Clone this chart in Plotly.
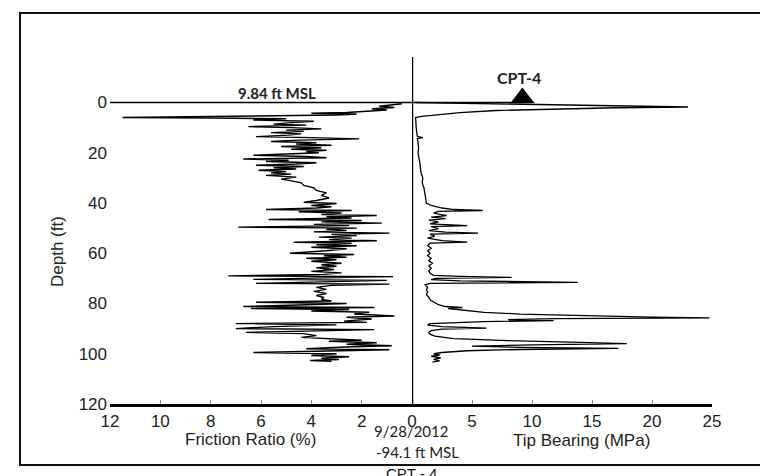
import plotly.graph_objects as go

# ---------------- data ----------------
friction_depth = [0.5, 1.0, 1.5, 2.0, 2.5, 3.0, 3.5, 4.0, 4.3, 4.6, 5.0, 5.5, 5.8, 6.0, 6.2, 6.5, 7.0, 7.5, 8.0, 8.6,
                  9.0, 9.6, 10.0, 10.5, 11.0, 11.5, 12.0, 12.5, 13.0, 13.6, 14.0, 14.5, 15.0, 15.5, 16.0, 16.5, 17.0, 17.5, 18.0, 18.6,
                  19.0, 19.5, 20.0, 20.5, 21.0, 21.5, 22.0, 22.5, 23.0, 23.5, 24.0, 24.5, 25.0, 25.5, 26.0, 26.5, 27.0, 27.5, 28.0, 28.5,
                  29.0, 29.7, 30.5, 31.0, 32.0, 33.0, 34.0, 35.0, 36.0, 37.0, 38.0, 39.0, 39.7, 40.2, 41.0, 41.5, 42.0, 42.6, 43.0, 43.5,
                  44.0, 44.6, 45.0, 45.5, 46.0, 46.6, 47.0, 47.5, 48.0, 48.5, 49.0, 49.6, 50.0, 50.5, 51.0, 51.5, 52.0, 52.5, 53.0, 53.6,
                  54.0, 54.6, 55.0, 55.6, 56.0, 56.6, 57.0, 57.6, 58.2, 59.0, 60.0, 60.5, 61.0, 61.6, 62.0, 62.6, 63.2, 64.0, 64.6, 65.2,
                  65.8, 66.5, 67.2, 67.8, 68.4, 69.0, 69.3, 69.8, 70.4, 70.8, 71.3, 72.0, 72.3, 72.8, 73.6, 74.4, 75.2, 76.0, 76.8, 77.6,
                  78.4, 79.0, 79.5, 80.0, 80.6, 81.2, 81.6, 82.0, 82.4, 83.0, 83.5, 84.2, 85.0, 85.5, 86.2, 87.0, 87.5, 88.0, 88.5, 89.2,
                  90.0, 90.4, 91.0, 91.5, 92.0, 92.8, 93.5, 94.0, 94.6, 95.0, 95.6, 96.2, 96.8, 97.2, 97.6, 98.0, 98.4, 99.0, 99.5, 100.0,
                  100.7, 101.2, 101.8, 102.3, 102.7, 103.0]
friction_ratio = [0.4, 0.8, 1.3, 0.7, 1.6, 1.0, 1.9, 2.6, 4.0, 2.2, 3.0, 6.5, 9.5, 11.5, 8.0, 5.0, 6.3, 3.9, 4.8, 5.5,
                  4.2, 6.5, 4.8, 3.6, 5.0, 4.3, 5.6, 4.4, 4.9, 6.2, 4.0, 2.1, 4.5, 5.6, 3.8, 4.6, 3.2, 5.2, 3.6, 4.8,
                  3.4, 4.2, 3.7, 5.0, 6.3, 4.2, 3.4, 6.7, 4.9, 5.8, 3.8, 4.6, 6.2, 4.3, 5.5, 4.6, 6.1, 5.0, 5.6, 4.8,
                  5.8, 4.6, 5.2, 4.9, 4.4, 4.3, 3.9, 3.8, 3.4, 3.6, 3.3, 3.8, 4.3, 3.0, 4.0, 3.2, 3.8, 5.8, 2.4, 4.5,
                  2.8, 3.6, 1.4, 3.4, 2.4, 5.7, 2.0, 3.6, 1.2, 3.9, 2.5, 6.9, 2.2, 3.4, 2.6, 3.9, 0.9, 3.2, 2.2, 3.7,
                  2.4, 3.3, 1.4, 4.7, 2.4, 3.8, 2.2, 4.0, 2.6, 3.4, 4.85, 2.3, 3.5, 2.6, 4.2, 3.0, 4.0, 2.8, 3.6, 3.0,
                  3.8, 3.1, 4.0, 2.8, 3.5, 7.3, 0.75, 3.5, 6.3, 1.0, 3.3, 6.2, 0.9, 3.2, 3.8, 3.4, 3.9, 3.4, 3.8, 3.5,
                  3.6, 3.2, 6.2, 2.6, 4.5, 6.7, 1.5, 6.4, 2.5, 4.0, 1.7, 2.3, 0.7, 2.6, 1.6, 2.7, 1.8, 7.0, 3.0, 5.5,
                  7.0, 1.5, 4.2, 6.6, 4.3, 3.8, 4.4, 3.4, 2.0, 3.3, 1.4, 2.6, 0.8, 2.4, 3.2, 4.2, 0.9, 3.5, 6.3, 3.0,
                  4.0, 2.5, 3.6, 2.9, 4.05, 3.2]

tip_depth = [0.0, 0.5, 1.0, 1.5, 1.8, 2.1, 2.6, 3.2, 4.0, 4.8, 5.5, 6.0, 8.0, 10.0, 12.0, 13.5, 14.0, 14.4, 16.0, 18.0,
             20.0, 22.0, 24.0, 26.0, 28.0, 30.0, 32.0, 34.0, 36.0, 38.0, 40.0, 41.0, 42.0, 42.6, 43.0, 43.3, 44.0, 45.0, 45.6, 46.2,
             46.8, 47.5, 48.3, 49.0, 49.4, 50.2, 51.0, 51.6, 52.0, 52.4, 53.2, 54.0, 55.0, 55.6, 56.0, 57.0, 58.0, 59.0, 60.0, 61.0,
             62.0, 63.0, 64.0, 65.0, 66.0, 67.0, 68.0, 68.8, 69.2, 69.6, 70.0, 70.5, 71.0, 71.6, 72.0, 72.6, 73.5, 74.5, 75.5, 76.5,
             77.5, 78.5, 79.5, 80.5, 81.2, 81.6, 82.0, 82.8, 83.5, 84.2, 84.8, 85.4, 85.7, 86.0, 86.4, 86.8, 87.2, 87.6, 88.0, 88.6,
             89.2, 89.8, 90.2, 90.8, 91.5, 92.2, 93.0, 94.0, 94.8, 95.5, 96.0, 96.5, 97.0, 97.5, 97.9, 98.3, 98.8, 99.5, 100.0, 100.5,
             101.0, 101.6, 102.2, 102.8, 103.3]
tip_bearing = [0.3, 6.0, 14.0, 20.0, 23.0, 17.0, 11.0, 7.0, 4.0, 2.0, 0.8, 0.3, 0.3, 0.35, 0.4, 0.45, 0.9, 0.45, 0.5, 0.55,
               0.5, 0.6, 0.65, 0.7, 0.75, 0.9, 0.85, 1.0, 1.05, 1.1, 1.2, 1.6, 2.5, 3.5, 5.9, 2.2, 1.8, 2.9, 1.6, 2.8,
               1.4, 2.2, 1.5, 4.6, 1.6, 2.2, 1.4, 2.8, 5.5, 1.5, 1.9, 1.3, 2.5, 4.6, 1.5, 1.3, 1.6, 1.3, 1.5, 1.3,
               1.6, 1.4, 1.7, 1.4, 1.6, 1.4, 1.5, 1.8, 4.0, 8.3, 2.0, 1.6, 4.0, 13.8, 1.5, 1.1, 1.3, 1.2, 1.3, 1.2,
               1.4, 1.5, 1.8, 2.2, 2.8, 4.2, 3.0, 4.5, 6.0, 9.0, 14.0, 20.0, 24.8, 12.0, 8.0, 11.8, 6.0, 3.0, 1.5, 1.3,
               2.5, 6.2, 2.5, 1.6, 1.4, 1.5, 1.9, 3.5, 8.0, 14.0, 17.9, 10.0, 5.0, 9.0, 17.2, 9.0, 4.6, 2.5, 1.8, 2.3,
               1.6, 2.4, 1.8, 2.3, 1.7]

friction_ticks = [12, 10, 8, 6, 4, 2, 0]
tip_ticks = [5, 10, 15, 20, 25]
depth_ticks = [0, 20, 40, 60, 80, 100, 120]
depth_range = [120, -18.1]
cpt_marker_tip = 9.2
ground_depth = 0

# ---------------- figure ----------------
OFF = 8  # page body margin offset
W, H = 760, 468
ML, MR, MT, MB = 102, 56, 49, 72
PW, PH = W - ML - MR, H - MT - MB
split = 302 / PW


def py(p):  # screen pixel y -> paper y
    return (H - MB - (p - OFF)) / PH


def px(p):  # screen pixel x -> paper x
    return (p - OFF - ML) / PW


fig = go.Figure()
fig.add_trace(go.Scatter(x=friction_ratio, y=friction_depth, mode="lines", xaxis="x", yaxis="y",
                         line=dict(color="black", width=1.4), hoverinfo="skip"))
fig.add_trace(go.Scatter(x=tip_bearing, y=tip_depth, mode="lines", xaxis="x2", yaxis="y",
                         line=dict(color="black", width=1.3), hoverinfo="skip"))
fig.add_trace(go.Scatter(x=[cpt_marker_tip], y=[ground_depth - 2.0], mode="markers", xaxis="x2", yaxis="y",
                         marker=dict(symbol="triangle-up", size=20, color="black"), hoverinfo="skip"))

tickfont = dict(family="Liberation Sans, Arial", size=17, color="#222")
fig.update_layout(
    width=W, height=H, margin=dict(l=ML, r=MR, t=MT, b=MB),
    paper_bgcolor="white", plot_bgcolor="white", showlegend=False,
    xaxis=dict(domain=[0, split], range=[12, 0], tickvals=friction_ticks, ticks="inside", ticklen=4,
               tickcolor="#888", showline=True, linecolor="black", linewidth=2.5, showgrid=False,
               zeroline=False, tickfont=tickfont, anchor="y"),
    xaxis2=dict(domain=[split, 1], range=[0, 25], tickvals=tip_ticks, ticks="inside", ticklen=4,
                tickcolor="#888", showline=True, linecolor="black", linewidth=2.5, showgrid=False,
                zeroline=False, tickfont=tickfont, anchor="y"),
    yaxis=dict(range=depth_range, tickvals=depth_ticks, showgrid=False, zeroline=False, showline=False,
               ticks="", tickfont=tickfont, ticklabelstandoff=2),
)

# axis lines / reference lines
fig.add_shape(type="line", xref="x2", yref="paper", x0=0, x1=0, y0=0, y1=1,
              line=dict(color="black", width=2.5))
fig.add_shape(type="line", xref="x", yref="y", x0=12, x1=0, y0=ground_depth, y1=ground_depth,
              line=dict(color="black", width=1.6))
fig.add_shape(type="line", xref="x2", yref="y", x0=0, x1=cpt_marker_tip + 1, y0=ground_depth, y1=ground_depth,
              line=dict(color="black", width=1.6))
# outer border
fig.add_shape(type="rect", xref="paper", yref="paper", x0=px(20), x1=px(775), y0=py(465), y1=py(13),
              line=dict(color="#111", width=2), layer="above")

ann_font = dict(family="Liberation Sans, Arial", size=17, color="#222")
cal = "Lato, Carlito, Open Sans"
annotations = [
    dict(text="Friction Ratio (%)", x=px(250), y=py(439), font=ann_font),
    dict(text="Tip Bearing (MPa)", x=px(581), y=py(440), font=ann_font),
    dict(text="Depth (ft)", x=px(57), y=py(252), font=ann_font, textangle=-90),
    dict(text="<b>9.84 ft MSL</b>", x=px(277), y=py(93), font=dict(family=cal, size=15, color="#222")),
    dict(text="<b>CPT-4</b>", x=px(519), y=py(77), font=dict(family=cal, size=16, color="#222")),
    dict(text="9/28/2012", x=px(411), y=py(431), font=dict(family=cal, size=15, color="#222")),
    dict(text="-94.1 ft MSL", x=px(417), y=py(452), font=dict(family=cal, size=15, color="#222")),
    dict(text="CPT - 4", x=px(411), y=py(463), yanchor="top",
         font=dict(family="Liberation Sans, Arial", size=15, color="#111")),
]
for a in annotations:
    a.setdefault("yanchor", "middle")
    fig.add_annotation(xref="paper", yref="paper", showarrow=False, xanchor="center", **a)

fig.write_html("out.html")
